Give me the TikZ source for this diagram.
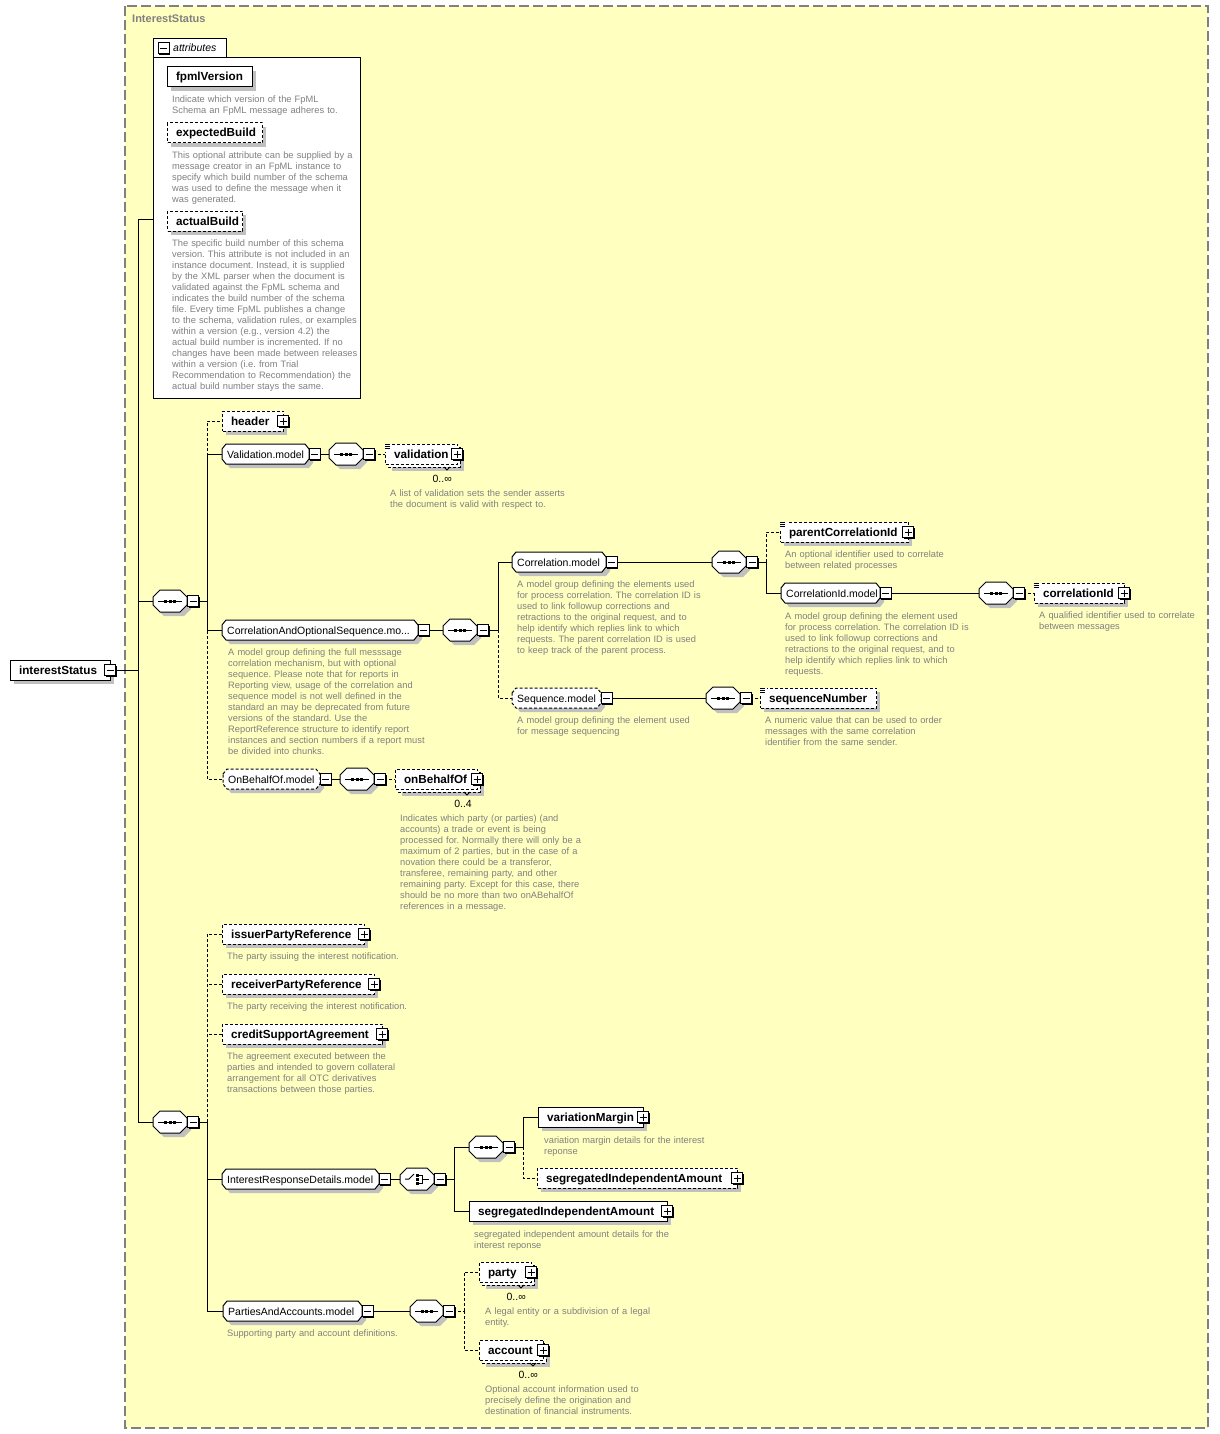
\documentclass[tikz,border=0pt]{standalone}
\usepackage{fontspec}
\setmainfont{Liberation Sans}
\usetikzlibrary{calc}
\frenchspacing
\definecolor{bgy}{RGB}{255,255,192}
\definecolor{shd}{RGB}{192,192,192}
\definecolor{dsc}{RGB}{128,128,128}
\newcommand\fdesc{\fontsize{9.3}{11}\selectfont}
\newcommand\fname{\fontsize{11.7}{13}\selectfont\bfseries}
\newcommand\fmodel{\fontsize{10.5}{12}\selectfont}
\pgfdeclarelayer{back}
\pgfdeclarelayer{wires}
\pgfsetlayers{back,wires,main}
\tikzset{
  conn/.style={line width=1pt, draw=black},
  opt/.style={dash pattern=on 3pt off 2pt},
  desc/.style={anchor=base west, inner sep=0pt, text width=300pt, align=left, font=\fdesc, text=dsc},
  elt/.style={anchor=west, draw=black, line width=1pt, fill=white, inner xsep=8.5pt, inner ysep=0pt, minimum height=20pt, text height=10pt, text depth=2pt, align=left, font=\fname},
  grp/.style={anchor=west, inner xsep=5pt, inner ysep=0pt, minimum height=20pt, text height=9.5pt, text depth=1.5pt, align=left, font=\fmodel},
  cmp/.style={anchor=west, inner sep=0pt, minimum height=22pt},
  mult/.style={anchor=base east, inner sep=0pt, font=\fmodel},
}
% plus / minus icon: x, y, 1=plus 0=minus
\newcommand\xicon[3]{%
  \fill[black] (#1-4.5,#2-4.5) rectangle (#1+6.5,#2+6.5);
  \filldraw[fill=white,draw=black,line width=1pt] (#1-5.5,#2-5.5) rectangle (#1+5.5,#2+5.5);
  \draw[line width=1pt] (#1-3.5,#2) -- (#1+3.5,#2);
  \ifnum#3=1 \draw[line width=1pt] (#1,#2-3.5) -- (#1,#2+3.5);\fi
}
% octagon: x yc w halfh chamferx chamfery style
\newcommand\xoct[7]{%
  \path[#7] (#1,#2-#4+#6) -- (#1+#5,#2-#4) -- (#1+#3-#5,#2-#4) -- (#1+#3,#2-#4+#6) -- (#1+#3,#2+#4-#6) -- (#1+#3-#5,#2+#4) -- (#1+#5,#2+#4) -- (#1,#2+#4-#6) -- cycle;
}
% element: name x yc w text style icon(0 none,1 plus,2 minus)
\newcommand\xel[7]{%
  \fill[shd] (#2+4,#3-6) rectangle (#2+#4+4,#3+14);
  \pgfmathsetmacro\xtw{#4-17}%
  \node[elt,#6,text width=\xtw pt] (#1) at (#2,#3) {#5};
  \ifnum#7=1 \xicon{#2+#4}{#3}{1}\fi
  \ifnum#7=2 \xicon{#2+#4}{#3}{0}\fi
}
% repeated element: name x yc w text label labelname
\newcommand\xelm[7]{%
  \fill[shd] (#2+7,#3-3) rectangle (#2+#4+7,#3+17);
  \filldraw[fill=white,draw=black,line width=1pt,opt] (#2+3,#3-7) rectangle (#2+#4+3,#3+13);
  \draw[line width=0.8pt] (#2+#4-13,#3+13) -- (#2+#4-10,#3+16) -- (#2+#4-7,#3+13);
  \pgfmathsetmacro\xtw{#4-17}%
  \node[elt,opt,text width=\xtw pt] (#1) at (#2,#3) {#5};
  \xicon{#2+#4}{#3}{1}
  \node[mult] (#7) at (#2+#4-5,#3+28) {#6};
}
% simple content mark: x, top
\newcommand\xeq[2]{%
  \fill[white] (#1-0.5,#2-0.5) rectangle (#1+6.5,#2+7.5);
  \draw[line width=0.8pt] (#1,#2+0.5) -- (#1+5,#2+0.5) (#1,#2+2.5) -- (#1+5,#2+2.5) (#1,#2+4.5) -- (#1+5,#2+4.5);
}
% model group: name x yc w text style
\newcommand\xgrp[6]{%
  \xoct{#2+4}{#3+4}{#4}{10}{4}{5}{fill=shd}
  \xoct{#2}{#3}{#4}{10}{4}{5}{fill=white,draw=black,line width=1pt,#6}
  \pgfmathsetmacro\xtw{#4-10}%
  \node[grp,text width=\xtw pt] (#1) at (#2,#3) {#5};
  \xicon{#2+#4+5.5}{#3}{0}
}
% sequence compositor: name x yc w
\newcommand\xseq[4]{%
  \xoct{#2+4}{#3+4}{#4}{11}{7}{7}{fill=shd}
  \xoct{#2}{#3}{#4}{11}{7}{7}{fill=white,draw=black,line width=1pt}
  \node[cmp,minimum width=#4pt] (#1) at (#2,#3) {};
  \draw[line width=1pt] (#2+5,#3) -- (#2+#4-5,#3);
  \fill (#2+#4/2-6,#3-1.5) rectangle (#2+#4/2-3,#3+1.5);
  \fill (#2+#4/2-1.5,#3-1.5) rectangle (#2+#4/2+1.5,#3+1.5);
  \fill (#2+#4/2+3,#3-1.5) rectangle (#2+#4/2+6,#3+1.5);
  \xicon{#2+#4+6}{#3}{0}
}
% choice compositor: name x yc w
\newcommand\xchoice[4]{%
  \xoct{#2+4}{#3+4}{#4}{11}{7}{7}{fill=shd}
  \xoct{#2}{#3}{#4}{11}{7}{7}{fill=white,draw=black,line width=1pt}
  \node[cmp,minimum width=#4pt] (#1) at (#2,#3) {};
  \draw[line width=1pt] (#2+5,#3) -- (#2+9,#3) -- (#2+14,#3-5);
  \fill (#2+16,#3-5.5) rectangle (#2+19,#3-2.5);
  \fill (#2+16,#3-1.5) rectangle (#2+19,#3+1.5);
  \fill (#2+16,#3+2.5) rectangle (#2+19,#3+5.5);
  \draw[line width=1pt] (#2+19,#3-4) -- (#2+22,#3-4) -- (#2+22,#3+4) -- (#2+19,#3+4) (#2+22,#3) -- (#2+#4-5,#3);
  \xicon{#2+#4+6}{#3}{0}
}
\begin{document}
\begin{tikzpicture}[x=1pt,y=-1pt]
\useasboundingbox (0,0) rectangle (1219,1434);
\begin{pgfonlayer}{back}
  \fill[white] (0,0) rectangle (1219,1434);
  \fill[bgy] (125,6) rectangle (1208,1428);
  \draw[draw=dsc, line width=1.5pt, dash pattern=on 10pt off 4pt] (125,6) rectangle (1208,1428);
\end{pgfonlayer}
\node[anchor=base west, inner sep=0pt, font=\fontsize{11}{13}\selectfont\bfseries, text=dsc] (title) at (132,23) {InterestStatus};

% root
\xel{iS}{10}{670}{100}{interestStatus}{solid}{2}

% attributes box
\node[draw=black, line width=1pt, fill=white, minimum width=207pt, minimum height=341pt, inner sep=0pt, anchor=north west] (attr) at (153,57) {};
\filldraw[fill=white, draw=black, line width=1pt] (153,57) -- (153,39) -- (226,39) -- (226,57);
\xicon{163.5}{48.5}{0}
\node[anchor=base west, inner sep=0pt, font=\fontsize{10.5}{12}\selectfont\itshape] (attrlbl) at (173,52) {attributes};
\coordinate (attrIn) at (153,219);
\xel{fpv}{167}{77}{85}{fpmlVersion}{solid}{0}
\xel{exb}{167}{133}{95}{expectedBuild}{opt}{0}
\xel{acb}{167}{221}{75}{actualBuild}{opt}{0}
\node[desc] (d1) at (172,102.5) {Indicate which version of the FpML\\Schema an FpML message adheres to.};
\node[desc] (d2) at (172,158.5) {This optional attribute can be supplied by a\\message creator in an FpML instance to\\specify which build number of the schema\\was used to define the message when it\\was generated.};
\node[desc] (d3) at (172,246.5) {The specific build number of this schema\\version. This attribute is not included in an\\instance document. Instead, it is supplied\\by the XML parser when the document is\\validated against the FpML schema and\\indicates the build number of the schema\\file. Every time FpML publishes a change\\to the schema, validation rules, or examples\\within a version (e.g., version 4.2) the\\actual build number is incremented. If no\\changes have been made between releases\\within a version (i.e. from Trial\\Recommendation to Recommendation) the\\actual build number stays the same.};

% first sequence
\xseq{sqA}{153}{601}{34}
\xel{hdr}{222}{421}{61}{header}{opt}{1}
\xgrp{valm}{222}{454}{87}{Validation.model}{solid}
\xseq{sqV}{329}{454}{34}
\xelm{val}{385}{454}{72}{validation}{0..∞}{m1}
\xeq{385}{444}
\node[desc] (d4) at (390,496.5) {A list of validation sets the sender asserts\\the document is valid with respect to.};

\xgrp{caos}{222}{630}{196}{CorrelationAndOptionalSequence.mo...}{solid}
\xseq{sqC}{443}{630}{34}
\node[desc] (d5) at (228,655.5) {A model group defining the full messsage\\correlation mechanism, but with optional\\sequence. Please note that for reports in\\Reporting view, usage of the correlation and\\sequence model is not well defined in the\\standard an may be deprecated from future\\versions of the standard. Use the\\ReportReference structure to identify report\\instances and section numbers if a report must\\be divided into chunks.};

\xgrp{corr}{512}{562}{94}{Correlation.model}{solid}
\xseq{sqR}{712}{562}{34}
\node[desc] (d6) at (517,587.5) {A model group defining the elements used\\for process correlation. The correlation ID is\\used to link followup corrections and\\retractions to the original request, and to\\help identify which replies link to which\\requests. The parent correlation ID is used\\to keep track of the parent process.};
\xel{pcid}{780}{532}{128}{parentCorrelationId}{opt}{1}
\xeq{780}{522}
\node[desc] (d7) at (785,557.5) {An optional identifier used to correlate\\between related processes};
\xgrp{cidm}{781}{593}{99}{CorrelationId.model}{solid}
\xseq{sqI}{979}{593}{34}
\node[desc] (d8) at (785,619.5) {A model group defining the element used\\for process correlation. The correlation ID is\\used to link followup corrections and\\retractions to the original request, and to\\help identify which replies link to which\\requests.};
\xel{cid}{1034}{593}{90}{correlationId}{opt}{1}
\xeq{1034}{583}
\node[desc] (d9) at (1039,618.5) {A qualified identifier used to correlate\\between messages};

\xgrp{seqm}{512}{698}{89}{Sequence.model}{opt}
\xseq{sqS}{706}{698}{34}
\node[desc] (d10) at (517,723.5) {A model group defining the element used\\for message sequencing};
\xel{sqn}{760}{698}{116}{sequenceNumber}{opt}{0}
\xeq{760}{688}
\node[desc] (d11) at (765,723.5) {A numeric value that can be used to order\\messages with the same correlation\\identifier from the same sender.};

\xgrp{obom}{223}{779}{97}{OnBehalfOf.model}{opt}
\xseq{sqO}{340}{779}{34}
\xelm{obo}{395}{779}{82}{onBehalfOf}{0..4}{m2}
\node[desc] (d12) at (400,821.5) {Indicates which party (or parties) (and\\accounts) a trade or event is being\\processed for. Normally there will only be a\\maximum of 2 parties, but in the case of a\\novation there could be a transferor,\\transferee, remaining party, and other\\remaining party. Except for this case, there\\should be no more than two onABehalfOf\\references in a message.};

% second sequence
\xseq{sqB}{153}{1122}{34}
\xel{ipr}{222}{934}{142}{issuerPartyReference}{opt}{1}
\node[desc] (d13) at (227,959.5) {The party issuing the interest notification.};
\xel{rpr}{222}{984}{152}{receiverPartyReference}{opt}{1}
\node[desc] (d14) at (227,1009.5) {The party receiving the interest notification.};
\xel{csa}{222}{1034}{160}{creditSupportAgreement}{opt}{1}
\node[desc] (d15) at (227,1059.5) {The agreement executed between the\\parties and intended to govern collateral\\arrangement for all OTC derivatives\\transactions between those parties.};

\xgrp{ird}{222}{1179}{157}{InterestResponseDetails.model}{solid}
\xchoice{chc}{400}{1179}{34}
\xseq{sqM}{469}{1147}{34}
\xel{vm}{538}{1117}{105}{variationMargin}{solid}{1}
\node[desc] (d16) at (544,1143.5) {variation margin details for the interest\\reponse};
\xel{sia1}{537}{1178}{200}{segregatedIndependentAmount}{opt}{1}
\xel{sia2}{469}{1211}{198}{segregatedIndependentAmount}{solid}{1}
\node[desc] (d17) at (474,1237.5) {segregated independent amount details for the\\interest reponse};

\xgrp{pam}{223}{1311}{139}{PartiesAndAccounts.model}{solid}
\node[desc] (d18) at (227,1336.5) {Supporting party and account definitions.};
\xseq{sqP}{410}{1311}{33}
\xelm{party}{479}{1272}{52}{party}{0..∞}{m3}
\node[desc] (d19) at (485,1314.5) {A legal entity or a subdivision of a legal\\entity.};
\xelm{acct}{479}{1350}{64}{account}{0..∞}{m4}
\node[desc] (d20) at (485,1392.5) {Optional account information used to\\precisely define the origination and\\destination of financial instruments.};

% bus points
\coordinate (b0) at (138,670);
\coordinate (b1) at (207,601);
\coordinate (b2) at (498,630);
\coordinate (b3) at (766,562);
\coordinate (b4) at (207,1122);
\coordinate (b5) at (454,1179);
\coordinate (b6) at (523,1147);
\coordinate (b7) at (464,1311);

\begin{pgfonlayer}{wires}
\draw[conn] (iS.east) -- (b0);
\draw[conn] (b0) |- (attrIn);
\draw[conn] (b0) |- (sqA.west);
\draw[conn] (b0) |- (sqB.west);

\draw[conn] (sqA.east) -- (b1);
\draw[conn,opt] (b1) |- (hdr.west);
\draw[conn,opt] (b1) |- (obom.west);
\draw[conn] (b1) |- (valm.west);
\draw[conn] (b1) |- (caos.west);

\draw[conn] (valm.east) -- (sqV.west);
\draw[conn,opt] (sqV.east) -- (val.west);

\draw[conn] (caos.east) -- (sqC.west);
\draw[conn] (sqC.east) -- (b2);
\draw[conn,opt] (b2) |- (seqm.west);
\draw[conn] (b2) |- (corr.west);

\draw[conn] (corr.east) -- (sqR.west);
\draw[conn] (sqR.east) -- (b3);
\draw[conn,opt] (b3) |- (pcid.west);
\draw[conn] (b3) |- (cidm.west);
\draw[conn] (cidm.east) -- (sqI.west);
\draw[conn,opt] (sqI.east) -- (cid.west);

\draw[conn] (seqm.east) -- (sqS.west);
\draw[conn,opt] (sqS.east) -- (sqn.west);

\draw[conn] (obom.east) -- (sqO.west);
\draw[conn,opt] (sqO.east) -- (obo.west);

\draw[conn] (sqB.east) -- (b4);
\draw[conn,opt] (b4) |- (ipr.west);
\draw[conn,opt] (b4) |- (rpr.west);
\draw[conn,opt] (b4) |- (csa.west);
\draw[conn] (b4) |- (ird.west);
\draw[conn] (b4) |- (pam.west);

\draw[conn] (ird.east) -- (chc.west);
\draw[conn] (chc.east) -- (b5);
\draw[conn] (b5) |- (sqM.west);
\draw[conn] (b5) |- (sia2.west);
\draw[conn] (sqM.east) -- (b6);
\draw[conn,opt] (b6) |- (sia1.west);
\draw[conn] (b6) |- (vm.west);

\draw[conn] (pam.east) -- (sqP.west);
\draw[conn,opt] (sqP.east) -- (b7);
\draw[conn,opt] (b7) |- (party.west);
\draw[conn,opt] (b7) |- (acct.west);
\end{pgfonlayer}
\end{tikzpicture}
\end{document}
